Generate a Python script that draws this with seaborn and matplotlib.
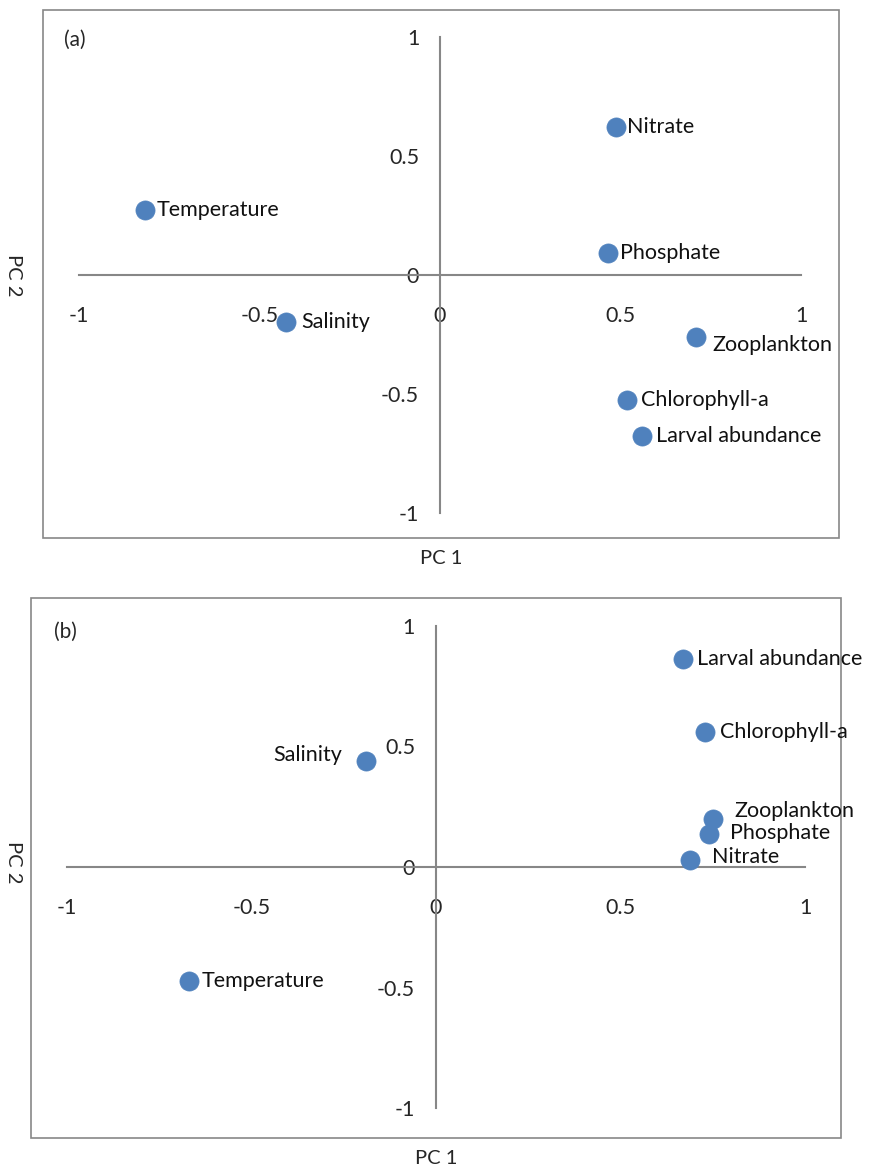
import matplotlib
matplotlib.use("Agg")
import matplotlib.pyplot as plt
import seaborn as sns
import pandas as pd
from matplotlib.patches import Rectangle

# Loadings on the first two principal components
variables_a = ["Temperature", "Salinity", "Nitrate", "Phosphate",
               "Zooplankton", "Chlorophyll-a", "Larval abundance"]
pc1_a = [-0.817, -0.427, 0.488, 0.465, 0.709, 0.518, 0.560]
pc2_a = [0.273, -0.197, 0.622, 0.092, -0.260, -0.525, -0.676]

variables_b = ["Larval abundance", "Chlorophyll-a", "Salinity", "Zooplankton",
               "Phosphate", "Nitrate", "Temperature"]
pc1_b = [0.669, 0.729, -0.190, 0.751, 0.740, 0.689, -0.669]
pc2_b = [0.863, 0.560, 0.440, 0.199, 0.137, 0.029, -0.473]

tick_values = [-1, -0.5, 0, 0.5, 1]
tick_labels = ["-1", "-0.5", "0", "0.5", "1"]

# label placement (offset in points, horizontal alignment)
offsets_a = {
    "Temperature": (8, 0, "left"), "Salinity": (11, 0, "left"),
    "Nitrate": (8, 0, "left"), "Phosphate": (9, 0, "left"),
    "Zooplankton": (12, -6, "left"), "Chlorophyll-a": (10, 0, "left"),
    "Larval abundance": (10, 0, "left"),
}
offsets_b = {
    "Larval abundance": (10, 0, "left"), "Chlorophyll-a": (11, 0, "left"),
    "Salinity": (-17, 4, "right"), "Zooplankton": (15, 6, "left"),
    "Phosphate": (15, 1, "left"), "Nitrate": (16, 2, "left"),
    "Temperature": (9, 0, "left"),
}

sns.set_style("white")
plt.rcParams["font.family"] = ["Lato", "DejaVu Sans"]

GRAY = "#878787"
BLUE = "#4f81bd"

fig = plt.figure(figsize=(8.75, 11.69), dpi=100)
W, H = 875, 1169


def panel(box, xlim, ylim, names, xs, ys, offs, tag, tag_pos, ylab_y):
    l, t, r, b = box
    ax = fig.add_axes([l / W, 1 - b / H, (r - l) / W, (b - t) / H])
    df = pd.DataFrame({"PC1": xs, "PC2": ys, "var": names})
    sns.scatterplot(data=df, x="PC1", y="PC2", ax=ax, color=BLUE,
                    s=190, edgecolor=BLUE, linewidth=0.5, zorder=5)
    ax.set_xlim(*xlim)
    ax.set_ylim(*ylim)
    for side in ["top", "right"]:
        ax.spines[side].set_visible(False)
    for side in ["left", "bottom"]:
        sp = ax.spines[side]
        sp.set_position(("data", 0))
        sp.set_bounds(-1, 1)
        sp.set_color(GRAY)
        sp.set_linewidth(1.5)
    ax.add_patch(Rectangle((0, 0), 1, 1, transform=ax.transAxes, fill=False,
                           edgecolor=GRAY, linewidth=1.2, clip_on=False))
    ax.set_xticks(tick_values)
    ax.set_xticklabels(tick_labels)
    ax.set_yticks(tick_values)
    ax.set_yticklabels(tick_labels)
    ax.tick_params(axis="x", direction="out", length=6, width=1.2,
                   color=GRAY, pad=16, labelsize=15.5)
    ax.tick_params(axis="y", direction="out", length=6, width=1.2,
                   color=GRAY, pad=9, labelsize=15.5)
    ax.set_xlabel("")
    ax.set_ylabel("")
    for n, x, y in zip(names, xs, ys):
        dx, dy, ha = offs[n]
        ax.annotate(n, (x, y), xytext=(dx, dy), textcoords="offset points",
                    ha=ha, va="center", fontsize=15.5, color="#111111",
                    zorder=6)
    ax.text(tag_pos[0], tag_pos[1], tag, transform=ax.transAxes,
            fontsize=15, ha="left", va="center")
    fig.text((l + r) / 2 / W, 1 - (b + 20) / H, "PC 1", ha="center",
             va="center", fontsize=14.5)
    fig.text(13 / W, 1 - ylab_y / H, "PC 2", ha="center", va="center",
             rotation=270, fontsize=14.5)
    return ax


panel((43, 10, 839, 538), (-1.0997, 1.105), (-1.105, 1.113),
      variables_a, pc1_a, pc2_a, offsets_a, "(a)", (0.027, 0.943), 275)
panel((31, 598, 841, 1138), (-1.0976, 1.0976), (-1.124, 1.116),
      variables_b, pc1_b, pc2_b, offsets_b, "(b)", (0.029, 0.937), 862)

fig.savefig("out.png", dpi=100)
